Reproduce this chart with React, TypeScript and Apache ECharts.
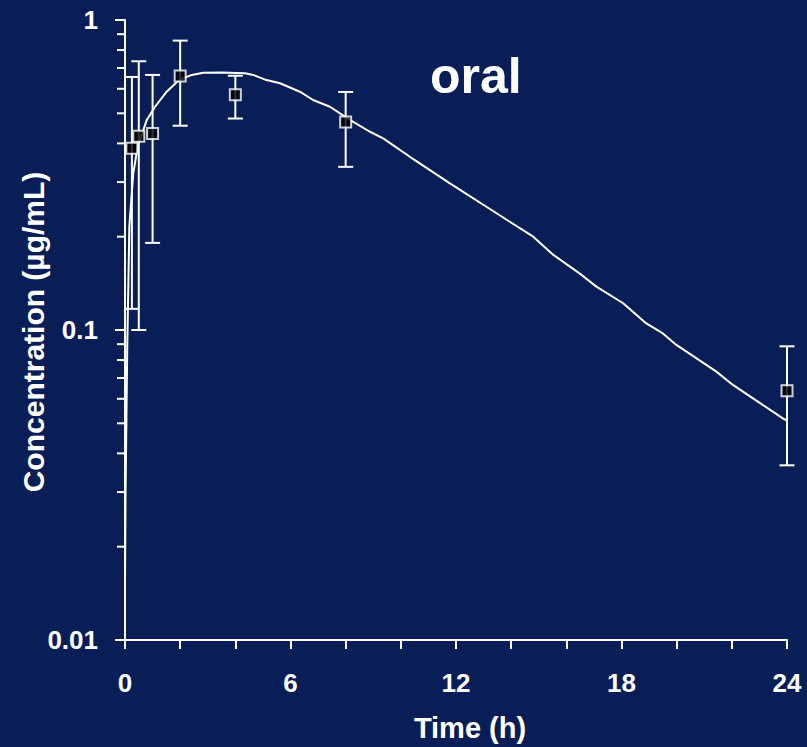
import React, { useEffect, useRef } from "react";
import * as echarts from "echarts";

// Observed data (time in h, concentration in µg/mL)
const times = [0.25, 0.5, 1, 2, 4, 8, 24];
const means = [0.386, 0.422, 0.43, 0.66, 0.574, 0.469, 0.0637];
const lows = [0.117, 0.1, 0.191, 0.456, 0.481, 0.336, 0.0366];
const highs = [0.655, 0.736, 0.665, 0.858, 0.661, 0.586, 0.0886];

// Fitted curve
const curveT = [0, 0.02, 0.05, 0.08, 0.157, 0.3, 0.46, 0.79, 1.09, 1.51, 1.96, 2.42, 2.84, 3.5, 4.35, 4.65, 5.13, 5.62, 6.34, 6.82, 7.43, 8.15, 8.88, 9.36, 10.33, 11.78, 13.47, 14.8, 15.52, 16.49, 17.09, 18.06, 18.9, 19.5, 19.99, 21.44, 22.04, 23.85, 24];
const curveC = [0.015, 0.03, 0.05, 0.086, 0.215, 0.32, 0.39, 0.476, 0.525, 0.587, 0.64, 0.665, 0.676, 0.677, 0.673, 0.665, 0.64, 0.625, 0.587, 0.552, 0.525, 0.476, 0.436, 0.415, 0.362, 0.297, 0.238, 0.2, 0.175, 0.152, 0.138, 0.122, 0.105, 0.0975, 0.0895, 0.0734, 0.0665, 0.0519, 0.051];

// Axis ticks
const yTicks = [0.01, 0.1, 1];
const yTickLabels = ["0.01", "0.1", "1"];
const yMinorMantissas = [2, 3, 4, 5, 6, 7, 8, 9];
const yMinorDecades = [0.01, 0.1];
const xLabelStep = 6;

const FONT = "'Liberation Sans', Arial, Helvetica, sans-serif";
const BG = "#091d57";

export default function App() {
  const ref = useRef<HTMLDivElement>(null);
  useEffect(() => {
    if (!ref.current) return;
    const chart = echarts.init(ref.current, undefined, { renderer: "svg" });
    const minorTicks: number[] = [];
    yMinorDecades.forEach((d) => yMinorMantissas.forEach((m) => minorTicks.push(+(d * m).toPrecision(3))));

    const option: any = {
      animation: false,
      backgroundColor: BG,
      grid: { left: 125, right: 20, top: 20, bottom: 107, containLabel: false },
      xAxis: {
        type: "value",
        min: 0,
        max: 24,
        interval: 2,
        axisLine: { show: true, lineStyle: { color: "#fff", width: 2 } },
        axisTick: { show: true, length: 9, lineStyle: { color: "#fff", width: 2 } },
        splitLine: { show: false },
        axisLabel: {
          color: "#fff",
          fontFamily: FONT,
          fontWeight: "bold",
          fontSize: 26,
          margin: 30,
          formatter: (v: number) => (v % xLabelStep === 0 ? String(v) : ""),
        },
      },
      yAxis: {
        type: "log",
        logBase: 10,
        min: 0.01,
        max: 1,
        axisLine: { show: true, onZero: false, lineStyle: { color: "#fff", width: 2 } },
        axisTick: { show: true, length: 10, lineStyle: { color: "#fff", width: 2 } },
        splitLine: { show: false },
        axisLabel: {
          color: "#fff",
          fontFamily: FONT,
          fontWeight: "bold",
          fontSize: 26,
          margin: 27,
          formatter: (v: number) => {
            let best = 0;
            yTicks.forEach((t, i) => {
              if (Math.abs(Math.log10(t) - Math.log10(v)) < Math.abs(Math.log10(yTicks[best]) - Math.log10(v))) best = i;
            });
            return yTickLabels[best];
          },
        },
      },
      graphic: [
        {
          type: "text",
          x: 430,
          y: 76,
          style: { text: "oral", fill: "#fff", font: `bold 50px ${FONT}`, align: "left", verticalAlign: "middle" },
        },
        {
          type: "text",
          x: 470,
          y: 728,
          style: { text: "Time (h)", fill: "#fff", font: `bold 29px ${FONT}`, align: "center", verticalAlign: "middle" },
        },
        {
          type: "text",
          x: 33,
          y: 332,
          rotation: Math.PI / 2,
          style: { text: "Concentration (µg/mL)", fill: "#fff", font: `bold 30px ${FONT}`, align: "center", verticalAlign: "middle" },
        },
      ],
      series: [
        {
          type: "custom",
          name: "minorTicks",
          clip: false,
          silent: true,
          data: minorTicks.map((v) => [0, v]),
          renderItem: (params: any, api: any) => {
            const p = api.coord([0, api.value(1)]);
            return {
              type: "line",
              shape: { x1: p[0] - 8, y1: p[1], x2: p[0], y2: p[1] },
              style: { stroke: "#fff", lineWidth: 2 },
            };
          },
          z: 1,
        },
        {
          type: "line",
          name: "fit",
          data: curveT.map((t, i) => [t, curveC[i]]),
          showSymbol: false,
          symbol: "none",
          smooth: false,
          clip: true,
          lineStyle: { color: "#fff", width: 2 },
          z: 2,
        },
        {
          type: "custom",
          name: "errors",
          clip: false,
          silent: true,
          data: times.map((t, i) => [t, lows[i], highs[i]]),
          renderItem: (params: any, api: any) => {
            const t = api.value(0);
            const lo = api.coord([t, api.value(1)]);
            const hi = api.coord([t, api.value(2)]);
            const w = 7.5;
            const st = { stroke: "#fff", lineWidth: 2 };
            return {
              type: "group",
              children: [
                { type: "line", shape: { x1: lo[0], y1: lo[1], x2: hi[0], y2: hi[1] }, style: st },
                { type: "line", shape: { x1: hi[0] - w, y1: hi[1], x2: hi[0] + w, y2: hi[1] }, style: st },
                { type: "line", shape: { x1: lo[0] - w, y1: lo[1], x2: lo[0] + w, y2: lo[1] }, style: st },
              ],
            };
          },
          z: 3,
        },
        {
          type: "scatter",
          name: "observed",
          data: times.map((t, i) => [t, means[i]]),
          symbol: "rect",
          symbolSize: 11,
          itemStyle: { color: "#000", borderColor: "#fff", borderWidth: 2 },
          z: 4,
        },
      ],
    };
    chart.setOption(option);
    return () => chart.dispose();
  }, []);
  return <div ref={ref} style={{ position: "fixed", left: 0, top: 0, width: 807, height: 747 }} />;
}
